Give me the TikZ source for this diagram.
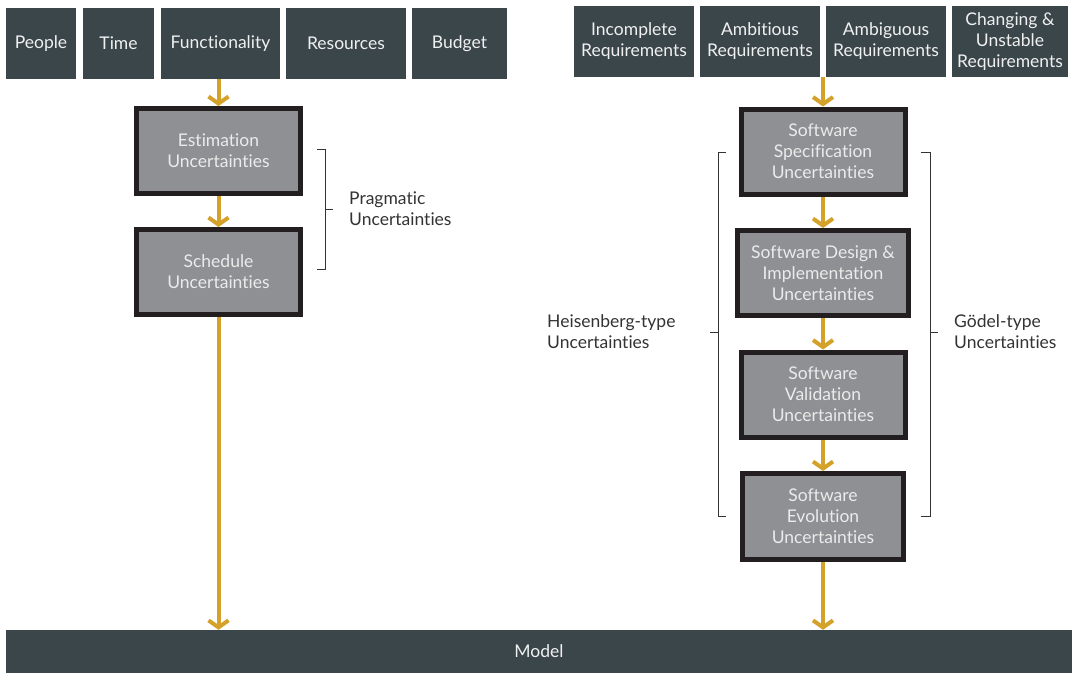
\documentclass[tikz,border=0pt]{standalone}
\usepackage{fontspec}
\setmainfont{Lato}[Ligatures={NoCommon}]
\usetikzlibrary{arrows.meta}
\definecolor{slate}{HTML}{3B464B}
\definecolor{boxgray}{HTML}{8F9093}
\definecolor{boxrim}{HTML}{231F20}
\definecolor{gold}{HTML}{D4A22A}
\definecolor{labeltext}{HTML}{333333}
\begin{document}
\begin{tikzpicture}[x=1pt,y=-1pt,
	font=\fontsize{17.5}{21}\selectfont,
	source/.style={fill=slate,text=white!94!black,align=center,inner sep=0pt,minimum height=71pt},
	uncert/.style={draw=boxrim,line width=5pt,fill=boxgray,text=white!92!black,align=center,inner sep=0pt,minimum width=164pt,minimum height=85pt},
	flow/.style={draw=gold,line width=4pt,-{Straight Barb[length=7pt,width=20pt]}},
	brace/.style={draw=labeltext,line width=1pt},
	side/.style={text=labeltext,align=left,inner sep=0pt,anchor=west}]
	\useasboundingbox (0,0) rectangle (1072,673);
	% sources of pragmatic uncertainty
	\node[source,minimum width=70pt]  (people) at (41,43.5)    {People};
	\node[source,minimum width=71pt]  (time)   at (118.5,43.5) {Time};
	\node[source,minimum width=119pt] (funct)  at (220.5,43.5) {Functionality};
	\node[source,minimum width=120pt] (res)    at (346,43.5)   {Resources};
	\node[source,minimum width=95pt]  (budget) at (459.5,43.5) {Budget};
	% requirements
	\node[source,minimum width=120pt] (incompl) at (634,41.5)  {Incomplete\\Requirements};
	\node[source,minimum width=120pt] (ambit)   at (760,41.5)  {Ambitious\\Requirements};
	\node[source,minimum width=120pt] (ambig)   at (886,41.5)  {Ambiguous\\Requirements};
	\node[source,minimum width=116pt] (unstable) at (1010,41.5) {Changing \&\\Unstable\\Requirements};
	\coordinate (reqs) at (823,77);
	% uncertainty boxes
	\node[uncert] (estim) at (218.5,151) {Estimation\\Uncertainties};
	\node[uncert] (sched) at (218.5,272) {Schedule\\Uncertainties};
	\node[uncert] (spec)  at (823,151.5) {Software\\Specification\\Uncertainties};
	\node[uncert,minimum width=171pt] (design) at (823,273) {Software Design \&\\Implementation\\Uncertainties};
	\node[uncert] (valid) at (823,394.5) {Software\\Validation\\Uncertainties};
	\node[uncert,minimum width=161pt,minimum height=86pt] (evol) at (823,516.5) {Software\\Evolution\\Uncertainties};
	\node[fill=slate,text=white!94!black,inner sep=0pt,minimum width=1066pt,minimum height=43pt] (model) at (539,651.5) {Model};
	% flow
	\draw[flow] (funct.south -| estim) -- (estim.north);
	\draw[flow] (estim) -- (sched);
	\draw[flow] (sched.south) -- (sched.south |- model.north);
	\draw[flow] (reqs) -- (spec.north);
	\draw[flow] (spec) -- (design);
	\draw[flow] (design) -- (valid);
	\draw[flow] (valid) -- (evol);
	\draw[flow] (evol.south) -- (evol.south |- model.north);
	% brackets
	\draw[brace] (317,149) -- (325,149) -- (325,269) -- (317,269) (325,209) -- (333,209);
	\node[side] (pragm) at (349,209) {Pragmatic\\Uncertainties};
	\draw[brace] (726,152) -- (718,152) -- (718,516) -- (726,516) (718,332) -- (710,332);
	\node[side] (heis) at (547,332) {Heisenberg-type\\Uncertainties};
	\draw[brace] (921,152) -- (930,152) -- (930,516) -- (921,516) (930,332) -- (938,332);
	\node[side] (goedel) at (954,332) {Gödel-type\\Uncertainties};
\end{tikzpicture}
\end{document}
